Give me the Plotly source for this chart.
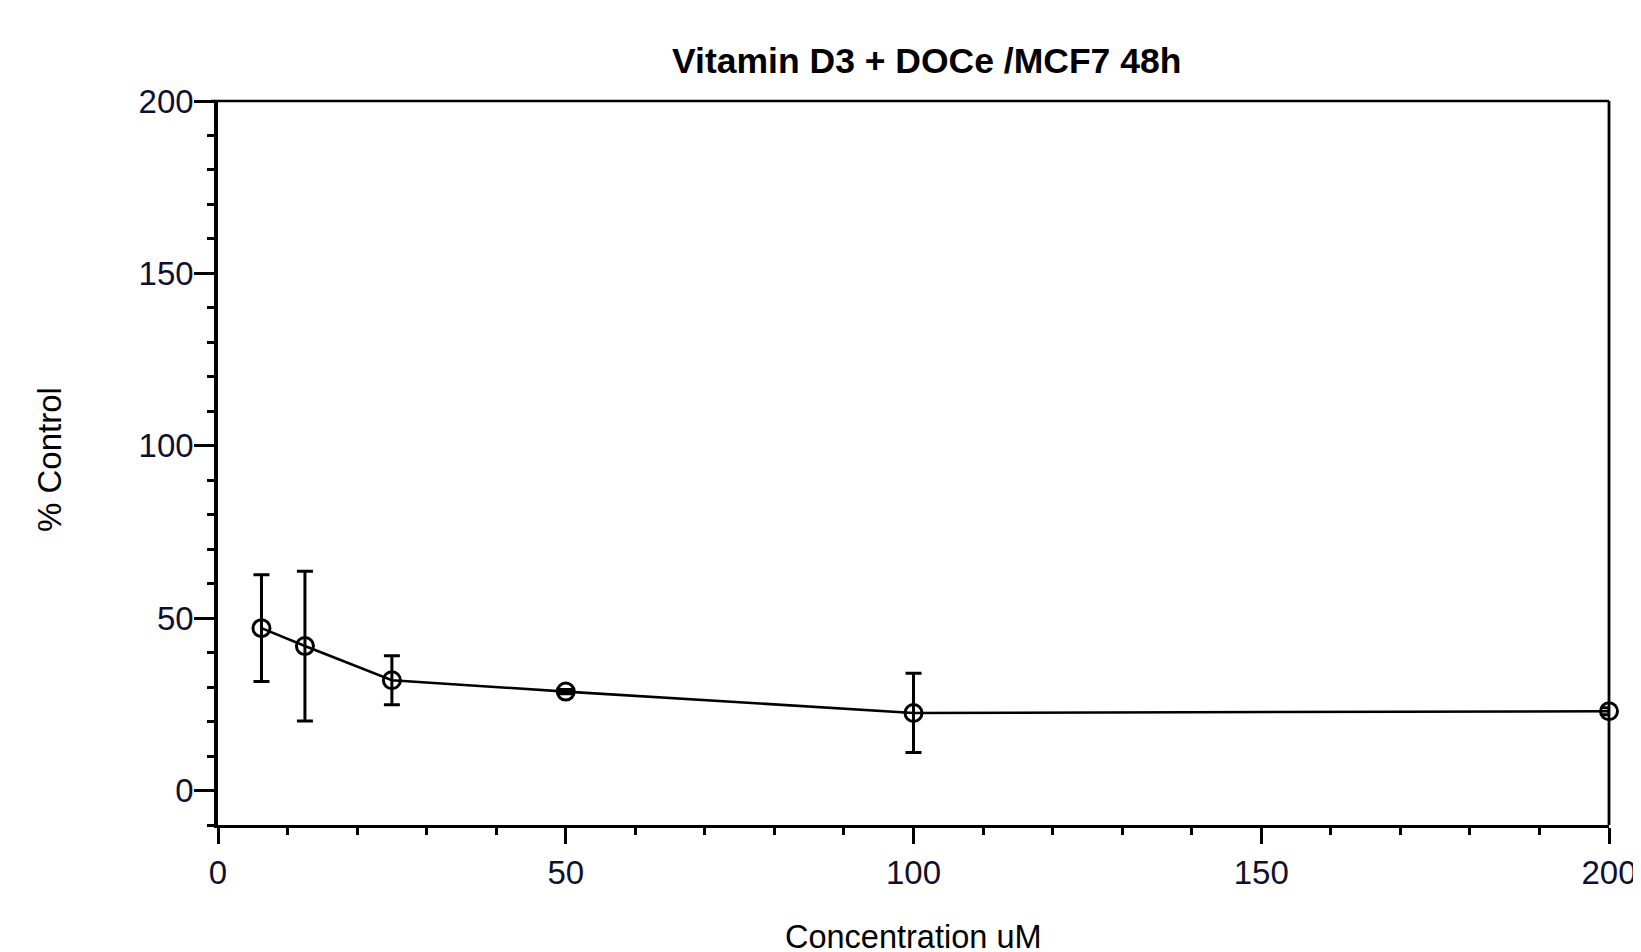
import plotly.graph_objects as go

# Data
concentration = [6.25, 12.5, 25, 50, 100, 200]
pct_control = [47.1, 41.9, 32.0, 28.7, 22.5, 23.0]
sd = [15.5, 21.7, 7.1, 0.6, 11.5, 1.0]

x_ticks = [0, 50, 100, 150, 200]
y_ticks = [0, 50, 100, 150, 200]

title_text = "Vitamin D3 + DOCe /MCF7 48h"
x_title = "Concentration uM"
y_title = "% Control"

FONT = "Liberation Sans, Arial, sans-serif"
TICKCOL = "#10102e"

fig = go.Figure()
fig.add_trace(go.Scatter(
    x=concentration, y=pct_control,
    mode="lines+markers",
    line=dict(color="black", width=2.6),
    marker=dict(symbol="circle-open", size=17, color="black", line=dict(width=3)),
    error_y=dict(type="data", array=sd, visible=True, color="black", thickness=3, width=8),
    cliponaxis=False,
    showlegend=False,
))

fig.update_layout(
    width=1641, height=952,
    paper_bgcolor="white", plot_bgcolor="white",
    margin=dict(l=210, r=34, t=93, b=135),
    font=dict(family=FONT, color="black"),
    title=dict(text="<b>" + title_text + "</b>", x=0.5095, xref="paper", xanchor="center",
               y=1 - 53 / 952, yref="container", yanchor="middle",
               font=dict(size=35.5, color="black", family=FONT)),
    xaxis=dict(range=[0, 200], tickvals=x_ticks, ticks="outside", ticklen=16, tickwidth=3,
               tickcolor="black", showline=True, linecolor="black", linewidth=3,
               showgrid=False, zeroline=False, ticklabelstandoff=0,
               tickfont=dict(size=33, color=TICKCOL, family=FONT),
               minor=dict(dtick=10, tick0=0, ticks="outside", ticklen=7, tickwidth=2.6,
                          tickcolor="black", showgrid=False)),
    yaxis=dict(range=[-10, 200], tickvals=y_ticks, ticks="outside", ticklen=20, tickwidth=3,
               tickcolor="black", showline=True, linecolor="black", linewidth=3.5,
               showgrid=False, zeroline=False, ticklabelstandoff=-6,
               tickfont=dict(size=33, color=TICKCOL, family=FONT),
               minor=dict(dtick=10, tick0=0, ticks="outside", ticklen=7, tickwidth=2.6,
                          tickcolor="black", showgrid=False)),
    annotations=[
        dict(text=x_title, xref="paper", yref="paper", x=0.5, y=-0.155,
             xanchor="center", yanchor="middle", showarrow=False,
             font=dict(size=32.5, color="black", family=FONT)),
        dict(text=y_title, xref="paper", yref="paper", x=-0.121, y=0.505,
             xanchor="center", yanchor="middle", showarrow=False, textangle=-90,
             font=dict(size=33, color="black", family=FONT)),
    ],
    shapes=[
        dict(type="line", xref="paper", yref="paper", x0=-0.005, x1=1, y0=1, y1=1,
             line=dict(color="black", width=2.6)),
        dict(type="line", xref="paper", yref="paper", x0=1, x1=1, y0=0, y1=1,
             line=dict(color="black", width=2.8)),
    ],
)

fig.write_html("out.html")
